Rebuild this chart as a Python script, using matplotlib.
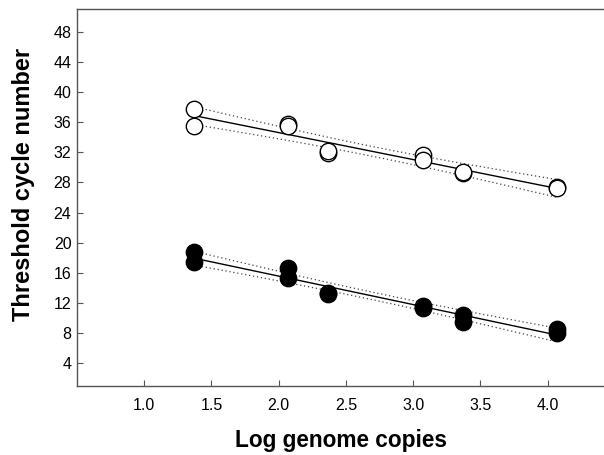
import numpy as np
import matplotlib
matplotlib.use("Agg")
import matplotlib.pyplot as plt

plt.rcParams['font.family'] = ['Liberation Sans', 'DejaVu Sans']

# log genome copies (two replicates per dilution)
log_copies = [1.37, 1.37, 2.07, 2.07, 2.37, 2.37, 3.07, 3.07, 3.37, 3.37, 4.07, 4.07]
# threshold cycles, open circles (upper series)
ct_open = [37.7, 35.5, 35.8, 35.5, 31.9, 32.2, 31.6, 31.0, 29.2, 29.4, 27.4, 27.2]
# threshold cycles, filled circles (lower series)
ct_filled = [18.8, 17.5, 16.7, 15.3, 13.4, 13.2, 11.6, 11.3, 10.4, 9.5, 8.6, 8.0]

y_ticks = [4, 8, 12, 16, 20, 24, 28, 32, 36, 40, 44, 48]
x_ticks = [1.0, 1.5, 2.0, 2.5, 3.0, 3.5, 4.0]

T_95 = 2.228  # t value, 10 degrees of freedom


def fit_with_band(x, y):
    x = np.asarray(x)
    y = np.asarray(y)
    n = len(x)
    slope, icpt = np.polyfit(x, y, 1)
    resid = y - (slope * x + icpt)
    s = np.sqrt(np.sum(resid ** 2) / (n - 2))
    xs = np.linspace(x.min(), x.max(), 100)
    ys = slope * xs + icpt
    sxx = np.sum((x - x.mean()) ** 2)
    half = T_95 * s * np.sqrt(1.0 / n + (xs - x.mean()) ** 2 / sxx)
    return xs, ys, ys - half, ys + half


fig = plt.figure(figsize=(6.04, 4.55), dpi=100)
ax = fig.add_axes([77 / 604, 69 / 455, 527 / 604, 377 / 455])

for ct, face in [(ct_open, 'white'), (ct_filled, 'black')]:
    xs, ys, lo, hi = fit_with_band(log_copies, ct)
    ax.plot(xs, ys, color='black', lw=1.0, zorder=2)
    ax.plot(xs, lo, color='#444444', lw=0.9, ls=(0, (1, 2.2)), zorder=2)
    ax.plot(xs, hi, color='#444444', lw=0.9, ls=(0, (1, 2.2)), zorder=2)
    ax.plot(log_copies, ct, 'o', ms=11.8, mfc=face, mec='black', mew=1.0,
            ls='none', zorder=3)

ax.set_xlim(0.5, 4.42)
ax.set_ylim(1, 51)
ax.set_xticks(x_ticks)
ax.set_xticklabels([f"{v:.1f}" for v in x_ticks])
ax.set_yticks(y_ticks)

for side in ['left', 'bottom', 'top']:
    ax.spines[side].set_color('#555555')
    ax.spines[side].set_linewidth(1.0)
ax.spines['right'].set_visible(False)

ax.tick_params(direction='in', length=4, width=0.8, color='#555555',
               labelsize=11.5, labelcolor='black')
ax.tick_params(axis='x', pad=9)
ax.tick_params(axis='y', pad=4)

ax.set_xlabel("Log genome copies", fontsize=16.3, fontweight='bold')
ax.xaxis.set_label_coords(0.5, -0.115)
ax.set_ylabel("Threshold cycle number", fontsize=17, fontweight='bold')
ax.yaxis.set_label_coords(-0.08, 0.535)

fig.savefig("out.png", dpi=100)
